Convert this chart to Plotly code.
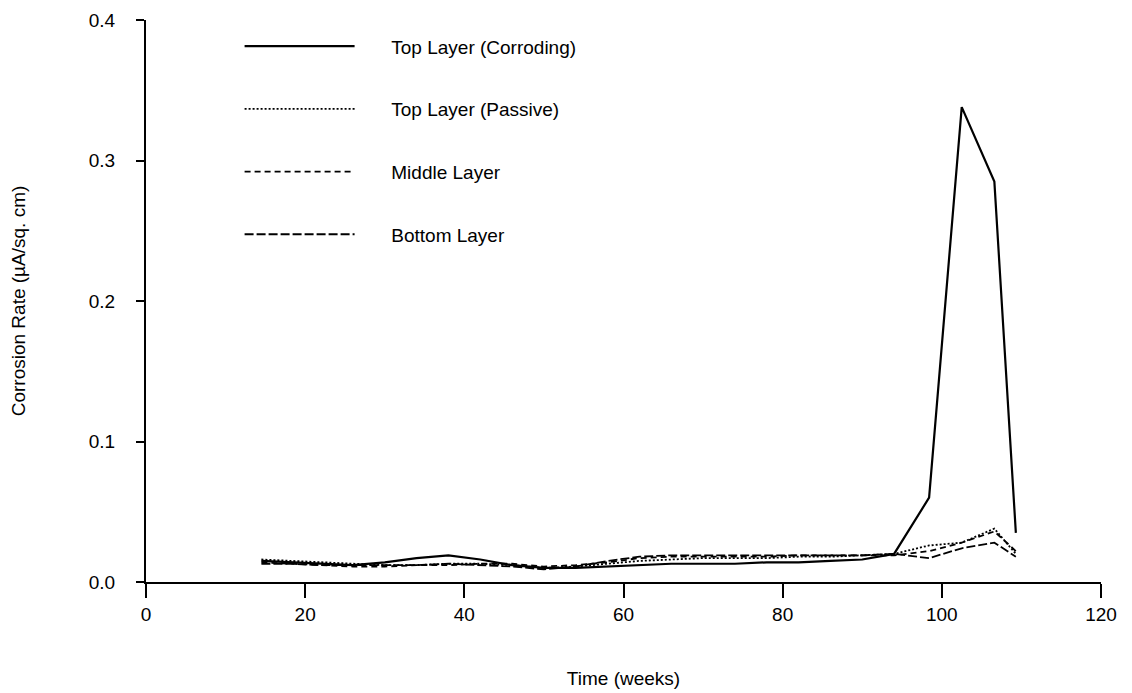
import plotly.graph_objects as go

weeks = [14.5, 18, 22, 26, 30, 34, 38, 42, 46, 50, 54, 58, 62, 66, 70, 74, 78, 82, 86, 90, 94, 98.4, 102.5, 106.6, 109.3]

top_corroding = [0.015, 0.014, 0.013, 0.012, 0.014, 0.017, 0.019, 0.016, 0.012, 0.010, 0.010, 0.011, 0.012, 0.013,
                 0.013, 0.013, 0.014, 0.014, 0.015, 0.016, 0.020, 0.060, 0.338, 0.285, 0.035]
top_passive = [0.016, 0.015, 0.014, 0.013, 0.012, 0.012, 0.013, 0.013, 0.012, 0.010, 0.011, 0.013, 0.015, 0.016,
               0.017, 0.017, 0.017, 0.018, 0.018, 0.019, 0.020, 0.026, 0.028, 0.038, 0.020]
middle_layer = [0.014, 0.013, 0.012, 0.011, 0.011, 0.012, 0.012, 0.013, 0.013, 0.011, 0.012, 0.014, 0.017, 0.018,
                0.018, 0.018, 0.018, 0.019, 0.019, 0.019, 0.019, 0.022, 0.028, 0.036, 0.022]
bottom_layer = [0.013, 0.013, 0.012, 0.012, 0.012, 0.012, 0.013, 0.012, 0.011, 0.009, 0.011, 0.015, 0.018, 0.019,
                0.019, 0.019, 0.019, 0.019, 0.019, 0.019, 0.020, 0.017, 0.024, 0.028, 0.018]

names = ["Top Layer (Corroding)", "Top Layer (Passive)", "Middle Layer", "Bottom Layer"]
series = [top_corroding, top_passive, middle_layer, bottom_layer]
dashes = ["solid", "2px,2px", "6px,4px", "9px,3px"]
widths = [2.2, 1.8, 1.8, 1.8]

x_ticks = [0, 20, 40, 60, 80, 100, 120]
y_ticks = [0.0, 0.1, 0.2, 0.3, 0.4]

pad = "\u00a0" * 6
fig = go.Figure()
for i, (nm, ys) in enumerate(zip(names, series)):
    fig.add_trace(go.Scatter(x=weeks, y=ys, mode="lines", name=pad + nm, legendgroup=f"g{i}",
                             line=dict(color="black", width=widths[i], dash=dashes[i])))

font = "Liberation Sans, Arial, Helvetica, sans-serif"
fig.update_layout(
    width=1132, height=693,
    margin=dict(l=146, r=31, t=20, b=111),
    paper_bgcolor="white", plot_bgcolor="white",
    font=dict(family=font, size=19, color="black"),
    showlegend=True,
    legend=dict(x=0.098, y=0.987, xanchor="left", yanchor="top", bgcolor="rgba(0,0,0,0)",
                itemwidth=110, tracegroupgap=35, font=dict(size=19), traceorder="grouped"),
    xaxis=dict(range=[0, 120], tickvals=x_ticks, ticktext=[str(v) for v in x_ticks],
               showgrid=False, zeroline=False, showline=True, linecolor="black", linewidth=2,
               ticks="outside", ticklen=14, tickwidth=1.5, tickcolor="black",
               tickfont=dict(size=19), automargin=False,
               title=dict(text="Time (weeks)", standoff=48, font=dict(size=19))),
    yaxis=dict(range=[0, 0.4], tickvals=y_ticks, ticktext=[f"{v:.1f}" for v in y_ticks],
               showgrid=False, zeroline=False, showline=True, linecolor="black", linewidth=2,
               ticks="outside", ticklen=8, tickwidth=1.5, tickcolor="black",
               tickfont=dict(size=19), ticklabelstandoff=17, automargin=False,
               title=dict(text="Corrosion Rate (µA/sq. cm)", standoff=58, font=dict(size=19))),
)

fig.write_html("out.html")
